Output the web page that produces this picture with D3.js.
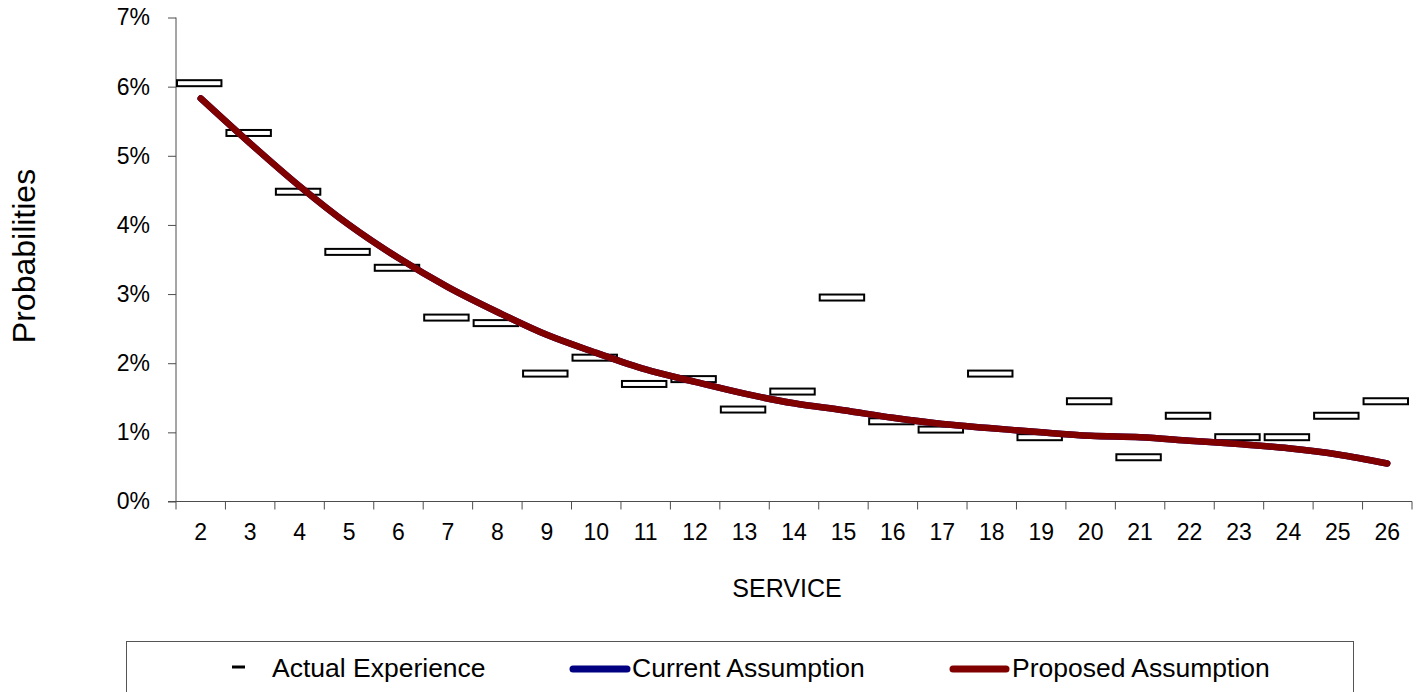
<!DOCTYPE html>
<html>
<head>
<meta charset="utf-8">
<script src="https://cdn.jsdelivr.net/npm/d3@7"></script>
<style>
	body { margin: 0; background: #fff; }
	svg { display: block; font-family: 'Liberation Sans', Arial, sans-serif; }
</style>
</head>
<body>
<svg width="1416" height="692"></svg>
<script>
var service = [2, 3, 4, 5, 6, 7, 8, 9, 10, 11, 12, 13, 14, 15, 16, 17, 18, 19, 20, 21, 22, 23, 24, 25, 26];
var actual = [6.05, 5.33, 4.48, 3.61, 3.38, 2.66, 2.58, 1.85, 2.08, 1.70, 1.77, 1.33, 1.59, 2.95, 1.16, 1.04, 1.85, 0.93, 1.45, 0.64, 1.24, 0.93, 0.93, 1.24, 1.45];
var current = [5.83, 5.18, 4.56, 4.00, 3.52, 3.10, 2.74, 2.41, 2.15, 1.91, 1.73, 1.56, 1.42, 1.32, 1.21, 1.12, 1.06, 1.00, 0.95, 0.93, 0.88, 0.83, 0.77, 0.68, 0.55];
var proposed = [5.83, 5.18, 4.56, 4.00, 3.52, 3.10, 2.74, 2.41, 2.15, 1.91, 1.73, 1.56, 1.42, 1.32, 1.21, 1.12, 1.06, 1.00, 0.95, 0.93, 0.88, 0.83, 0.77, 0.68, 0.55];
var yTicks = [0, 1, 2, 3, 4, 5, 6, 7];
var legendItems = ['Actual Experience', 'Current Assumption', 'Proposed Assumption'];

var svg = d3.select('svg');
var plotLeft = 176, plotRight = 1412, plotTop = 17.5, plotBottom = 501.5;

var x = d3.scaleBand().domain(service).range([plotLeft, plotRight]);
var y = d3.scaleLinear().domain([0, 7]).range([plotBottom, plotTop]);
var axisColor = '#4d4d4d';

// y axis
var yAxis = svg.append('g')
	.attr('transform', 'translate(' + plotLeft + ',0)')
	.call(d3.axisLeft(y).tickValues(yTicks).tickSize(8).tickFormat(function(d) { return d + '%'; }));
yAxis.select('.domain').attr('stroke', axisColor).attr('d', 'M0,' + plotTop + 'V' + plotBottom);
yAxis.selectAll('.tick line').attr('stroke', axisColor);
yAxis.selectAll('.tick text')
	.attr('x', -26)
	.attr('font-size', 23)
	.attr('font-family', 'Liberation Sans, Arial, sans-serif')
	.attr('fill', '#000');

// x axis, ticks sit on the category boundaries
var xAxis = svg.append('g')
	.attr('transform', 'translate(0,' + plotBottom + ')')
	.call(d3.axisBottom(x).tickSize(0).tickPadding(0));
xAxis.select('.domain').attr('stroke', axisColor).attr('d', 'M' + (plotLeft - 8) + ',0H' + plotRight);
xAxis.selectAll('.tick text')
	.attr('y', 38)
	.attr('dy', 0)
	.attr('font-size', 23)
	.attr('font-family', 'Liberation Sans, Arial, sans-serif')
	.attr('fill', '#000');
xAxis.selectAll('.bound')
	.data(service.concat(['end']))
	.enter().append('line')
	.attr('class', 'bound')
	.attr('x1', function(d) { return d === 'end' ? plotRight : x(d); })
	.attr('x2', function(d) { return d === 'end' ? plotRight : x(d); })
	.attr('y1', 0)
	.attr('y2', 8)
	.attr('stroke', axisColor);

// actual experience boxes
svg.append('g').selectAll('rect')
	.data(service)
	.enter().append('rect')
	.attr('x', function(d) { return x(d) + 1; })
	.attr('width', x.bandwidth() - 5)
	.attr('y', function(d, i) { return y(actual[i]) - 3; })
	.attr('height', 6)
	.attr('fill', '#fff')
	.attr('stroke', '#000')
	.attr('stroke-width', 2);

var line = function(vals) {
	return d3.line()
		.x(function(d) { return x(d) + x.bandwidth() / 2; })
		.y(function(d, i) { return y(vals[i]); })
		.curve(d3.curveCatmullRom.alpha(0.5))(service);
};

svg.append('path')
	.attr('d', line(current))
	.attr('fill', 'none')
	.attr('stroke', '#000080')
	.attr('stroke-width', 6.5)
	.attr('stroke-linecap', 'round');

svg.append('path')
	.attr('d', line(proposed))
	.attr('fill', 'none')
	.attr('stroke', '#800000')
	.attr('stroke-width', 6.5)
	.attr('stroke-linecap', 'round')
	.attr('stroke-linejoin', 'round');

// axis titles
svg.append('text')
	.attr('transform', 'translate(35,256) rotate(-90)')
	.attr('text-anchor', 'middle')
	.attr('font-size', 32)
	.text('Probabilities');

svg.append('text')
	.attr('x', 787)
	.attr('y', 597)
	.attr('text-anchor', 'middle')
	.attr('font-size', 25)
	.text('SERVICE');

// legend
var legend = svg.append('g');
legend.append('rect')
	.attr('x', 126.5)
	.attr('y', 641.5)
	.attr('width', 1227)
	.attr('height', 70)
	.attr('fill', '#fff')
	.attr('stroke', '#555');

legend.append('line')
	.attr('x1', 232).attr('x2', 245)
	.attr('y1', 667).attr('y2', 667)
	.attr('stroke', '#000')
	.attr('stroke-width', 3);

legend.append('line')
	.attr('x1', 573).attr('x2', 627)
	.attr('y1', 669).attr('y2', 669)
	.attr('stroke', '#000080')
	.attr('stroke-width', 7)
	.attr('stroke-linecap', 'round');

legend.append('line')
	.attr('x1', 953).attr('x2', 1006)
	.attr('y1', 669).attr('y2', 669)
	.attr('stroke', '#800000')
	.attr('stroke-width', 7)
	.attr('stroke-linecap', 'round');

var legendX = [272, 632, 1012];
legend.selectAll('.ltext')
	.data(legendItems)
	.enter().append('text')
	.attr('class', 'ltext')
	.attr('x', function(d, i) { return legendX[i]; })
	.attr('y', 677)
	.attr('font-size', 26.5)
	.text(function(d) { return d; });
</script>
</body>
</html>
